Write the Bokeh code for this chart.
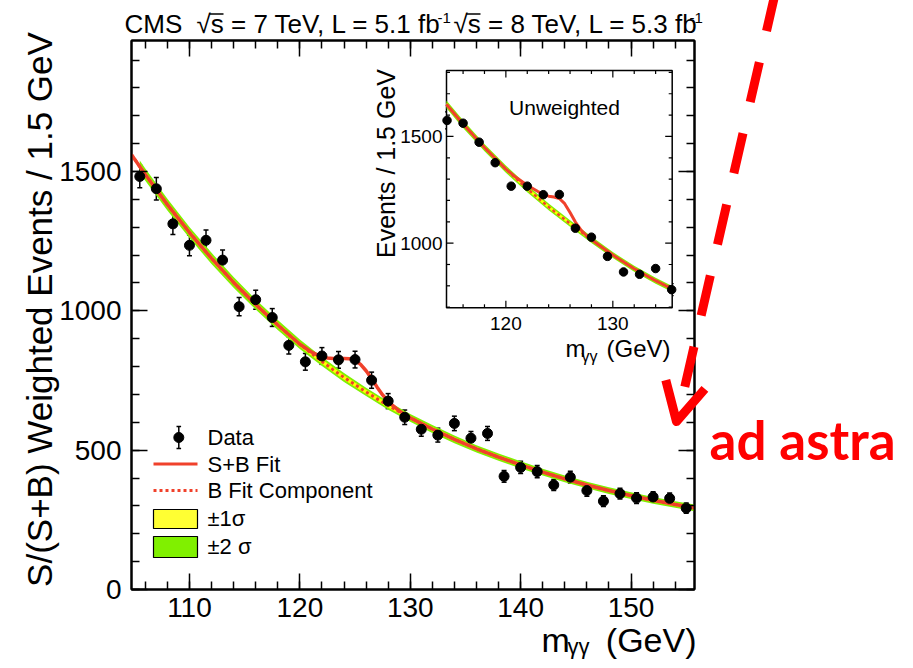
import math
from bokeh.plotting import figure
from bokeh.models import (Range1d, LinearAxis, SingleIntervalTicker, CustomJSTickFormatter,
                          Whisker, TeeHead, ColumnDataSource)
from bokeh.core.properties import value
from bokeh.embed import file_html
from bokeh.resources import INLINE

# ---------------- data ----------------
mass_bins = [105.5, 107.0, 108.5, 110.0, 111.5, 113.0, 114.5, 116.0, 117.5, 119.0,
             120.5, 122.0, 123.5, 125.0, 126.5, 128.0, 129.5, 131.0, 132.5, 134.0,
             135.5, 137.0, 138.5, 140.0, 141.5, 143.0, 144.5, 146.0, 147.5, 149.0,
             150.5, 152.0, 153.5, 155.0]
weighted_events = [1482, 1438, 1312, 1235, 1253, 1182, 1015, 1040, 976, 876,
                   817, 838, 824, 825, 751, 676, 618, 575, 554, 596,
                   543, 560, 406, 438, 423, 375, 403, 355, 317, 344,
                   328, 332, 327, 292]
weighted_err = [40, 40, 38, 37, 37, 36, 33, 34, 32, 31,
                30, 30, 30, 30, 29, 27, 26, 25, 25, 26,
                24, 25, 21, 22, 22, 20, 21, 20, 19, 19,
                19, 19, 19, 18]

fit_mass = [104.75, 106, 108, 110, 112, 114, 116, 118, 120, 121, 122, 122.5, 123, 123.5,
            124, 124.5, 125, 125.5, 126, 126.5, 127, 127.5, 128, 129, 130, 132, 134, 136,
            138, 140, 142, 144, 146, 148, 150, 152, 154, 155.75]
bkg_fit = [1560, 1489, 1381, 1281, 1188, 1102, 1023, 949, 880, 849, 818, 804, 789, 775,
           761, 748, 735, 722, 709, 697, 684, 672, 660, 638, 616, 576, 539, 505,
           475, 447, 421, 397, 375, 355, 337, 320, 305, 293]
sb_fit = [1560, 1489, 1381, 1281, 1188, 1102, 1023, 949, 880, 853, 834, 831, 829, 829,
          829, 828, 822, 808, 785, 757, 726, 698, 674, 641, 616, 576, 539, 505,
          475, 447, 421, 397, 375, 355, 337, 320, 305, 293]

band_mass = [105.5, 106, 108, 110, 112, 114, 116, 118, 120, 122, 124, 126, 128, 130,
             132, 134, 136, 138, 140, 142, 144, 146, 148, 150, 152, 154, 155.75]
band_center = [1517, 1489, 1381, 1281, 1188, 1102, 1023, 949, 880, 818, 761, 709, 660, 616,
               576, 539, 505, 475, 447, 421, 397, 375, 355, 337, 320, 305, 293]
band_1sigma = [11, 11, 10.5, 10, 10, 9.5, 9, 9, 8.5, 8, 8, 7.5, 7.5, 7,
               7, 7, 6.5, 6.5, 6.5, 6, 6, 6, 6, 6, 6, 6, 6]
band_2sigma = [22, 22, 21, 20, 20, 19, 18, 18, 17, 16, 16, 15, 15, 14,
               14, 14, 13, 13, 13, 12, 12, 12, 12, 12, 12, 12, 12]

inset_mass = [114.5, 116.0, 117.5, 119.0, 120.5, 122.0, 123.5, 125.0, 126.5, 128.0,
              129.5, 131.0, 132.5, 134.0, 135.5]
inset_events = [1575, 1562, 1473, 1377, 1267, 1267, 1227, 1228, 1070, 1028,
                938, 865, 854, 881, 782]
inset_err = [40, 40, 38, 37, 36, 36, 35, 35, 33, 32, 31, 29, 29, 30, 28]

inset_fit_mass = [114.45, 116, 118, 120, 121, 122, 123, 123.5, 124, 124.5, 125, 125.5,
                  126, 126.5, 127, 127.5, 128, 130, 132, 134, 135.55]
inset_bkg = [1650, 1558, 1448, 1347, 1300, 1255, 1212, 1191, 1170, 1150, 1131, 1111,
             1092, 1073, 1054, 1035, 1016, 944, 880, 824, 785]
inset_sb = [1650, 1558, 1448, 1347, 1306, 1271, 1242, 1229, 1220, 1216, 1209, 1185,
            1144, 1099, 1063, 1037, 1016, 944, 880, 824, 785]
inset_band_mass = [114.45, 116, 118, 120, 122, 124, 126, 128, 130, 132, 134, 135.55]
inset_band_center = [1650, 1558, 1448, 1347, 1255, 1170, 1092, 1016, 944, 880, 824, 785]
inset_band_1sigma = [9, 9, 8.5, 8.5, 8, 8, 7.5, 7.5, 7, 7, 7, 7]
inset_band_2sigma = [18, 18, 17, 17, 16, 16, 15, 15, 14, 14, 14, 14]

x_major_ticks_inset = [120, 130]
x_minor_ticks_inset = [116, 118, 122, 124, 126, 128, 132, 134]
y_major_ticks_inset = [1000, 1500]
y_minor_ticks_inset = [700, 800, 900, 1100, 1200, 1300, 1400, 1600, 1700, 1800]

legend_labels = ["Data", "S+B Fit", "B Fit Component", "\u00b11\u03c3", "\u00b12 \u03c3"]

# ---------------- layout constants (picture pixels) ----------------
W, H = 905, 660
FL, FR, FT, FB = 131, 694, 40, 589          # main frame
XR = (104.75, 155.75)
YR = (0, 1970)
IL, IR, IT, IB = 446, 671.7, 70, 307.3       # inset frame
IXR = (114.45, 135.55)
IYR = (697, 1809)

RED = "#F0412B"
GREEN = "#80F000"
YELLOW = "#FFFF00"
FONT = "Liberation Sans"

ppx = (IR - IL) / (IXR[1] - IXR[0])
ppy = (IB - IT) / (IYR[1] - IYR[0])
ix_range = Range1d(IXR[0] - (IL - FL) / ppx, IXR[1] + (FR - IR) / ppx)
iy_range = Range1d(IYR[0] - (FB - IB) / ppy, IYR[1] + (IT - FT) / ppy)

p = figure(width=W, height=H, x_range=Range1d(*XR), y_range=Range1d(*YR),
           output_backend="svg", toolbar_location=None,
           min_border_left=FL, min_border_right=W - FR,
           min_border_top=FT, min_border_bottom=H - FB)
p.extra_x_ranges = {"fx": Range1d(FL, FR), "ix": ix_range}
p.extra_y_ranges = {"fy": Range1d(FB, FT), "iy": iy_range}
p.grid.visible = False
p.outline_line_color = "black"
p.outline_line_width = 2
p.background_fill_color = "white"
p.border_fill_color = "white"


def style_axis(ax, interval, labels=True):
    ax.ticker = SingleIntervalTicker(interval=interval, num_minor_ticks=5)
    ax.axis_line_width = 2
    ax.axis_line_color = "black"
    ax.major_tick_in = 16
    ax.major_tick_out = 0
    ax.minor_tick_in = 8
    ax.minor_tick_out = 0
    ax.major_tick_line_width = 1.5
    ax.minor_tick_line_width = 1.5
    ax.major_label_text_font = FONT
    ax.major_label_text_font_size = "28px"
    ax.major_label_text_color = "black"
    if not labels:
        ax.formatter = CustomJSTickFormatter(code="return ''")
        ax.major_label_text_font_size = "1px"


style_axis(p.xaxis[0], 10)
p.xaxis[0].major_label_standoff = 8
style_axis(p.yaxis[0], 500)
p.yaxis[0].major_label_standoff = 10
top_ax = LinearAxis()
style_axis(top_ax, 10, labels=False)
p.add_layout(top_ax, "above")
right_ax = LinearAxis()
style_axis(right_ax, 500, labels=False)
p.add_layout(right_ax, "right")

# ---------------- main plot ----------------
band_src = ColumnDataSource(dict(
    x=band_mass,
    lo2=[c - s for c, s in zip(band_center, band_2sigma)],
    hi2=[c + s for c, s in zip(band_center, band_2sigma)],
    lo1=[c - s for c, s in zip(band_center, band_1sigma)],
    hi1=[c + s for c, s in zip(band_center, band_1sigma)],
))
p.varea(x="x", y1="lo2", y2="hi2", source=band_src, fill_color=GREEN)
p.varea(x="x", y1="lo1", y2="hi1", source=band_src, fill_color=YELLOW)
p.line(fit_mass, bkg_fit, line_color=RED, line_width=3, line_dash="3 3")
p.line(fit_mass, sb_fit, line_color=RED, line_width=3.5)

data_src = ColumnDataSource(dict(
    x=mass_bins, y=weighted_events,
    lo=[v - e for v, e in zip(weighted_events, weighted_err)],
    hi=[v + e for v, e in zip(weighted_events, weighted_err)],
))
p.add_layout(Whisker(base="x", lower="lo", upper="hi", source=data_src, dimension="height",
                     line_width=1.5, line_color="black",
                     lower_head=TeeHead(size=5, line_width=1.5),
                     upper_head=TeeHead(size=5, line_width=1.5)))
p.scatter("x", "y", source=data_src, size=10, color="black")

# ---------------- inset ----------------
p.quad(left=[IXR[0]], right=[IXR[1]], bottom=[IYR[0]], top=[IYR[1]],
       x_range_name="ix", y_range_name="iy",
       fill_color="white", line_color="black", line_width=1.5)
iband_src = ColumnDataSource(dict(
    x=inset_band_mass,
    lo2=[c - s for c, s in zip(inset_band_center, inset_band_2sigma)],
    hi2=[c + s for c, s in zip(inset_band_center, inset_band_2sigma)],
    lo1=[c - s for c, s in zip(inset_band_center, inset_band_1sigma)],
    hi1=[c + s for c, s in zip(inset_band_center, inset_band_1sigma)],
))
p.varea(x="x", y1="lo2", y2="hi2", source=iband_src, fill_color=GREEN,
        x_range_name="ix", y_range_name="iy")
p.varea(x="x", y1="lo1", y2="hi1", source=iband_src, fill_color=YELLOW,
        x_range_name="ix", y_range_name="iy")
p.line(inset_fit_mass, inset_bkg, line_color=RED, line_width=2.5, line_dash="3 3",
       x_range_name="ix", y_range_name="iy")
p.line(inset_fit_mass, inset_sb, line_color=RED, line_width=3,
       x_range_name="ix", y_range_name="iy")
idata_src = ColumnDataSource(dict(
    x=inset_mass, y=inset_events,
    lo=[v - e for v, e in zip(inset_events, inset_err)],
    hi=[v + e for v, e in zip(inset_events, inset_err)],
))
p.add_layout(Whisker(base="x", lower="lo", upper="hi", source=idata_src, dimension="height",
                     x_range_name="ix", y_range_name="iy",
                     line_width=1.2, line_color="black",
                     lower_head=TeeHead(size=4, line_width=1.2),
                     upper_head=TeeHead(size=4, line_width=1.2)))
p.scatter("x", "y", source=idata_src, size=8.5, color="black",
          x_range_name="ix", y_range_name="iy")

# inset ticks
MAJ, MIN = 7, 3.5
xt0, xt1, yt0, yt1 = [], [], [], []
for ticks, ln in ((x_major_ticks_inset, MAJ), (x_minor_ticks_inset, MIN)):
    for t in ticks:
        xt0 += [t, t]; xt1 += [t, t]
        yt0 += [IYR[0], IYR[1]]; yt1 += [IYR[0] + ln / ppy, IYR[1] - ln / ppy]
for ticks, ln in ((y_major_ticks_inset, MAJ), (y_minor_ticks_inset, MIN)):
    for t in ticks:
        yt0 += [t, t]; yt1 += [t, t]
        xt0 += [IXR[0], IXR[1]]; xt1 += [IXR[0] + ln / ppx, IXR[1] - ln / ppx]
p.segment(xt0, yt0, xt1, yt1, line_color="black", line_width=1.2,
          x_range_name="ix", y_range_name="iy")
p.text(x=x_major_ticks_inset, y=[IYR[0]] * len(x_major_ticks_inset),
       text=[str(t) for t in x_major_ticks_inset], x_range_name="ix", y_range_name="iy",
       text_font=value(FONT), text_font_size="19px", text_align="center",
       text_baseline="middle", y_offset=15.5, text_color="black")
p.text(x=[IXR[0]] * len(y_major_ticks_inset), y=y_major_ticks_inset,
       text=[str(t) for t in y_major_ticks_inset], x_range_name="ix", y_range_name="iy",
       text_font=value(FONT), text_font_size="19px", text_align="right",
       text_baseline="middle", x_offset=-4, text_color="black")


def ptext(text, x, y, size, align="left", angle=0.0, color="black", font=FONT,
          style="normal", base=True):
    """Text in picture-pixel coordinates (overlay level: not clipped to the frame).
    With base=True, y is the alphabetic baseline; otherwise y is the text middle."""
    px = float(size.replace("px", ""))
    ym = y - 0.355 * px if base else y
    p.text(x=[x], y=[ym], text=[text], x_range_name="fx", y_range_name="fy",
           text_font=value(font), text_font_size=size, text_align=align,
           text_baseline="middle", angle=angle, text_color=color,
           text_font_style=style, level="overlay")


ptext("Unweighted", 564, 107, "21px", align="center", base=False)
ptext("Events / 1.5 GeV", 385, 163, "25px", align="center", angle=math.pi / 2, base=False)
ptext("m", 565, 357, "24px")
ptext("\u03b3\u03b3", 581, 362, "16px")
ptext("(GeV)", 670, 357, "24px", align="right")

# ---------------- main texts ----------------
ptext("S/(S+B) Weighted Events / 1.5 GeV", 38.5, 309, "35px", align="center",
      angle=math.pi / 2, base=False)
ptext("m", 541, 652, "34px")
ptext("\u03b3\u03b3", 567, 654, "22px")
ptext("(GeV)", 696, 652, "34px", align="right")

ptext("CMS", 124, 33, "26px")
ptext("\u221as = 7 TeV, L = 5.1 fb", 196, 33, "26px")
ptext("-1", 437, 23, "15px")
ptext("\u221as = 8 TeV, L = 5.3 fb", 453, 33, "26px")
ptext("-1", 689, 23, "15px")
# bars over the "s" of the two square roots
p.segment([209, 466], [13.5, 13.5], [223, 480], [13.5, 13.5], line_color="black",
          line_width=1.5, x_range_name="fx", y_range_name="fy", level="overlay")

# ---------------- legend ----------------
lx_text = 207
ly = [437, 463.5, 490, 518, 546]
for t, yy in zip(legend_labels, ly):
    ptext(t, lx_text, yy, "22px", base=False)
p.scatter([178.3], [ly[0]], size=10, color="black", x_range_name="fx", y_range_name="fy")
p.segment([178.3, 176, 176], [ly[0] - 11, ly[0] - 11, ly[0] + 11],
          [178.3, 180.6, 180.6], [ly[0] + 11, ly[0] - 11, ly[0] + 11],
          line_color="black", line_width=1.5, x_range_name="fx", y_range_name="fy")
p.segment([153], [ly[1]], [197], [ly[1]], line_color=RED, line_width=3,
          x_range_name="fx", y_range_name="fy")
p.segment([153], [ly[2]], [197], [ly[2]], line_color=RED, line_width=3, line_dash="3 3",
          x_range_name="fx", y_range_name="fy")
p.quad(left=[153, 153], right=[197, 197], top=[509, 536], bottom=[528, 557],
       fill_color=["#FFFF33", GREEN], line_color="black", line_width=1.2,
       x_range_name="fx", y_range_name="fy")

# ---------------- annotation arrow (picture pixels) ----------------
p.segment([775.2], [-9.5], [677], [418], line_color="#FF0000", line_width=9,
          line_dash="41 32", x_range_name="fx", y_range_name="fy", level="overlay")
p.line([665.3, 676, 704.4], [379.6, 421, 388.4], line_color="#FF0000", line_width=9,
       line_join="round", x_range_name="fx", y_range_name="fy", level="overlay")
ptext("ad astra", 709, 458, "53px", color="#FF0000", font="Lato", style="bold")

open("out.html", "w").write(file_html(p, INLINE))
